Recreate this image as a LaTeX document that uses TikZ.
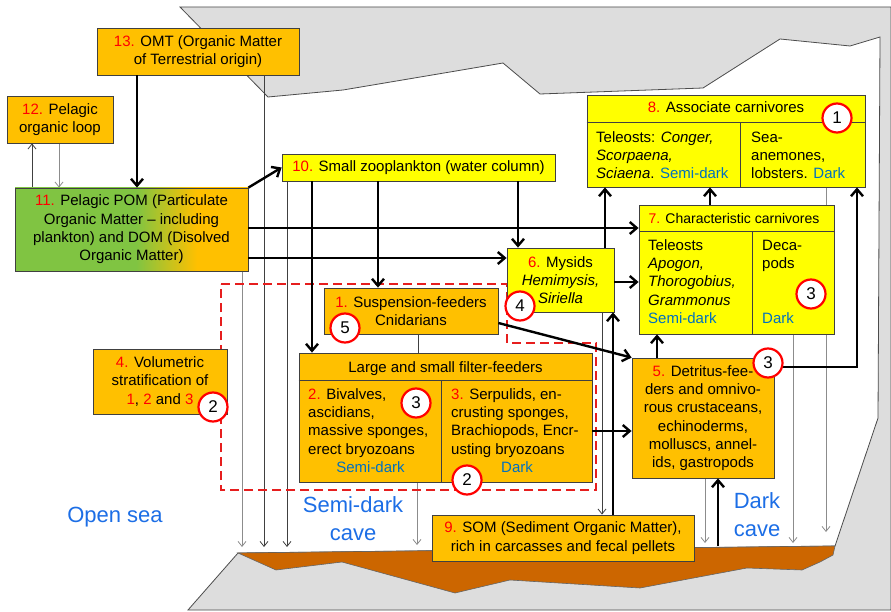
\documentclass[tikz,border=0pt]{standalone}
\usepackage{fontspec}
\setmainfont{Liberation Sans}
\usetikzlibrary{arrows.meta}
\definecolor{orng}{RGB}{255,192,0}
\definecolor{ylw}{RGB}{255,255,0}
\definecolor{grn}{RGB}{128,196,66}
\definecolor{rockgray}{RGB}{221,221,221}
\definecolor{sed}{RGB}{204,102,0}
\definecolor{sblue}{RGB}{0,112,192}
\definecolor{bblue}{RGB}{28,110,230}
\definecolor{numred}{RGB}{255,0,0}
\definecolor{bord}{RGB}{64,64,64}
\definecolor{dashred}{RGB}{230,30,30}
\pgfdeclarehorizontalshading{pomshade}{100bp}{color(0bp)=(grn); color(51bp)=(grn); color(64bp)=(orng); color(100bp)=(orng)}
\pgfdeclarelayer{bg}
\pgfsetlayers{bg,main}
\begin{document}
\begin{tikzpicture}[x=1pt,y=-1pt,
  font=\fontsize{15}{18.3}\selectfont,
  box/.style={draw=bord, line width=0.8pt, inner sep=0pt, align=center},
  obox/.style={box, fill=orng},
  ybox/.style={box, fill=ylw},
  txt/.style={inner sep=0pt, align=left},
  thk/.style={line width=2.4pt, -{Straight Barb[length=7pt,width=12pt]}},
  thnd/.style={line width=0.8pt, draw=black!75, -{Straight Barb[length=5pt,width=8pt]}},
  thnl/.style={line width=0.8pt, draw=black!45, -{Straight Barb[length=5pt,width=8pt]}},
  circ/.style={circle, draw=red, line width=2.2pt, fill=white, minimum size=29pt, inner sep=0pt, font=\fontsize{17}{19}\selectfont},
  biglab/.style={inner sep=0pt, align=center, text=bblue, font=\fontsize{22}{28}\selectfont}
]
\useasboundingbox (0,0) rectangle (891,612);

% ---------- boxes ----------
\node[obox, minimum width=202pt, minimum height=47pt] (b13) at (198,51.5) {{\color{numred}13.} OMT (Organic Matter\\of Terrestrial origin)};
\node[obox, minimum width=106pt, minimum height=47pt] (b12) at (60,119.5) {{\color{numred}12.} Pelagic\\organic loop};
\node[box, shading=pomshade, minimum width=233pt, minimum height=83pt] (b11) at (131.5,229.5) {{\color{numred}11.} Pelagic POM (Particulate\\Organic Matter – including\\plankton) and DOM (Disolved\\Organic Matter)};
\node[ybox, minimum width=273pt, minimum height=27pt] (b10) at (418.5,167.5) {{\color{numred}10.} Small zooplankton (water column)};
\node[ybox, minimum width=107pt, minimum height=64pt] (b6) at (560.5,280) {{\color{numred}6.} Mysids\\\textit{Hemimysis,}\\\textit{Siriella}};
\node[obox, minimum width=174pt, minimum height=46pt] (b1) at (411,311) {{\color{numred}1.} Suspension-feeders\\Cnidarians};
\node[obox, minimum width=293pt, minimum height=129pt] (bff) at (445.5,417.5) {};
\node[obox, minimum width=134pt, minimum height=65pt] (b4) at (160,381.5) {{\color{numred}4.} Volumetric\\stratification of\\{\color{numred}1}, {\color{numred}2} and {\color{numred}3}};
\node[obox, minimum width=142pt, minimum height=120pt] (b5) at (703,418) {{\color{numred}5.} Detritus-fee-\\ders and omnivo-\\rous crustaceans,\\echinoderms,\\molluscs, annel-\\ids, gastropods};
\node[obox, minimum width=262pt, minimum height=46pt] (b9) at (563,538) {{\color{numred}9.} SOM (Sediment Organic Matter),\\rich in carcasses and fecal pellets};
\node[ybox, minimum width=195pt, minimum height=129pt] (b7) at (736.5,269.5) {};
\node[ybox, minimum width=278pt, minimum height=92pt] (b8) at (726,141) {};

% ---------- cell dividers ----------
\draw[draw=bord, line width=0.8pt] ([yshift=-28pt]bff.north west) -- ([yshift=-28pt]bff.north east);
\draw[draw=bord, line width=0.8pt] ([xshift=143pt]bff.south west) -- ([xshift=143pt,yshift=-28pt]bff.north west);
\draw[draw=bord, line width=0.8pt] ([yshift=-27pt]b7.north west) -- ([yshift=-27pt]b7.north east);
\draw[draw=bord, line width=0.8pt] ([xshift=114pt]b7.south west) -- ([xshift=114pt,yshift=-27pt]b7.north west);
\draw[draw=bord, line width=0.8pt] ([yshift=-28pt]b8.north west) -- ([yshift=-28pt]b8.north east);
\draw[draw=bord, line width=0.8pt] ([xshift=154pt]b8.south west) -- ([xshift=154pt,yshift=-28pt]b8.north west);

% ---------- cell texts ----------
\node[txt, anchor=base] (ffh) at (445.5,372) {Large and small filter-feeders};
\node[txt, anchor=north west] (ff2) at (308,386.2) {\strut{\color{numred}2.} Bivalves,\\ascidians,\\massive sponges,\\erect bryozoans};
\node[txt, anchor=base, text=sblue] (ff2d) at (370.5,472) {Semi-dark};
\node[txt, anchor=north west] (ff3) at (451,386.2) {\strut{\color{numred}3.} Serpulids, en-\\crusting sponges,\\Brachiopods, Encr-\\usting bryozoans};
\node[txt, anchor=base, text=sblue] (ff3d) at (517,472) {Dark};

\node[txt, anchor=base, font=\fontsize{14}{17}\selectfont] (b7h) at (734,224) {{\color{numred}7.} Characteristic carnivores};
\node[txt, anchor=north west] (b7l) at (648,237.2) {\strut Teleosts\\\textit{Apogon,}\\\textit{Thorogobius,}\\\textit{Grammonus}\\{\color{sblue}Semi-dark}};
\node[txt, anchor=north west] (b7r) at (762,237.2) {\strut Deca-\\pods};
\node[txt, anchor=base west, text=sblue] (b7d) at (762,323) {Dark};

\node[txt, anchor=base] (b8h) at (726,113) {{\color{numred}8.} Associate carnivores};
\node[txt, anchor=north west] (b8l) at (596,129.2) {\strut Teleosts: \textit{Conger,}\\\textit{Scorpaena,}\\\textit{Sciaena}. {\color{sblue}Semi-dark}};
\node[txt, anchor=north west] (b8r) at (751,129.2) {\strut Sea-\\anemones,\\lobsters. {\color{sblue}Dark}};

% ---------- floor coordinates ----------
\coordinate (fl242) at (242,547);
\coordinate (fl264) at (264,547);
\coordinate (fl287) at (287,547);
\coordinate (fl417) at (417,545);
\coordinate (fl705) at (705,543);
\coordinate (fl793) at (793,543);
\coordinate (fl826) at (826,532);
\coordinate (sed718) at (718,546);

% ---------- background layer ----------
\begin{pgfonlayer}{bg}
\fill[white] (0,0) rectangle (891,612);
\filldraw[fill=rockgray, draw=black!70, line width=0.8pt]
  (180,7) -- (891,7) -- (891,610) -- (188,610) -- (238,553) -- (835,546) -- (878,418)
  -- (880,37) -- (850,46) -- (780,39) -- (703,88) -- (540,94) -- (503,63) -- (450,72)
  -- (343,90) -- (268,97) -- cycle;
\filldraw[fill=sed, draw=black!60, line width=0.6pt]
  (238,553) -- (835,546) -- (833,555) -- (820,562) -- (802,570) -- (747,568) -- (640,588)
  -- (510,580) -- (455,593) -- (342,562) -- (276,570) -- cycle;
% thin connectors
\draw[thnd] (32,0 |- b11.north) -- (32,0 |- b12.south);
\draw[thnl] (59,0 |- b12.south) -- (59,0 |- b11.north);
\draw[thnl] (242,0 |- b11.south) -- (fl242);
\draw[thnd] (264,0 |- b13.south) -- (fl264);
\draw[thnd] (287,0 |- b10.south) -- (fl287);
\draw[line width=0.8pt, draw=black!75] (418,0 |- b1.south) -- (418,0 |- bff.north);
\draw[thnl] (417,0 |- bff.south) -- (fl417);
\draw[thnd] (602,0 |- b6.south) -- (602,0 |- b9.north);
\draw[thnl] (705,0 |- b5.south) -- (fl705);
\draw[thnl] (793,0 |- b7.south) -- (fl793);
\draw[thnl] (826,0 |- b8.south) -- (fl826);
% red dashed zone
\draw[dashred, line width=1.5pt, dash pattern=on 9pt off 5pt]
  (221,284) -- (507,284) -- (507,343) -- (596,343) -- (596,490) -- (221,490) -- cycle;
\end{pgfonlayer}

% ---------- thick connectors ----------
\draw[thk] (137,0 |- b13.south) -- (137,0 |- b11.north);
\draw[thk] (b11.north east) -- (b10.west);
\draw[thk] (b11.east |- 0,228) -- (b7.west |- 0,228);
\draw[thk] (b11.east |- 0,258) -- (b6.west |- 0,258);
\draw[thk] (312,0 |- b10.south) -- (312,0 |- bff.north);
\draw[thk] (378,0 |- b10.south) -- (378,0 |- b1.north);
\draw[thk] (518,0 |- b10.south) -- (518,0 |- b6.north);
\draw[thk] (b6.east |- 0,282) -- (b7.west |- 0,282);
\draw[thk] (605,0 |- b6.north) -- (605,0 |- b8.south);
\draw[thk] (710,0 |- b7.north) -- (710,0 |- b8.south);
\draw[thk] (b1.east |- 0,323) -- (b5.north west);
\draw[thk] (bff.east |- 0,431) -- (b5.west |- 0,431);
\draw[thk] (657,0 |- b5.north) -- (657,0 |- b7.south);
\draw[thk] (b5.east |- 0,367) -| (857,0 |- b8.south);
\draw[thk] (613,0 |- b9.north) -- (613,0 |- b6.south);
\draw[thk] (sed718) -- (718,0 |- b5.south);

% ---------- circled numbers ----------
\node[circ] (c8) at (837,118) {1};
\node[circ] (cff3) at (416,403) {3};
\node[circ] (cff2) at (467,480) {2};
\node[circ] (c4) at (213,407) {2};
\node[circ] (c5) at (768,363) {3};
\node[circ] (c7) at (811,294) {3};
\node[circ] (c6) at (520,306) {4};
\node[circ] (c1) at (345,328) {5};

% ---------- zone labels ----------
\node[biglab, anchor=base] (open) at (115,522) {Open sea};
\node[biglab] (semi) at (353,519) {Semi-dark\\cave};
\node[biglab] (dark) at (757,515) {Dark\\cave};
\end{tikzpicture}
\end{document}
